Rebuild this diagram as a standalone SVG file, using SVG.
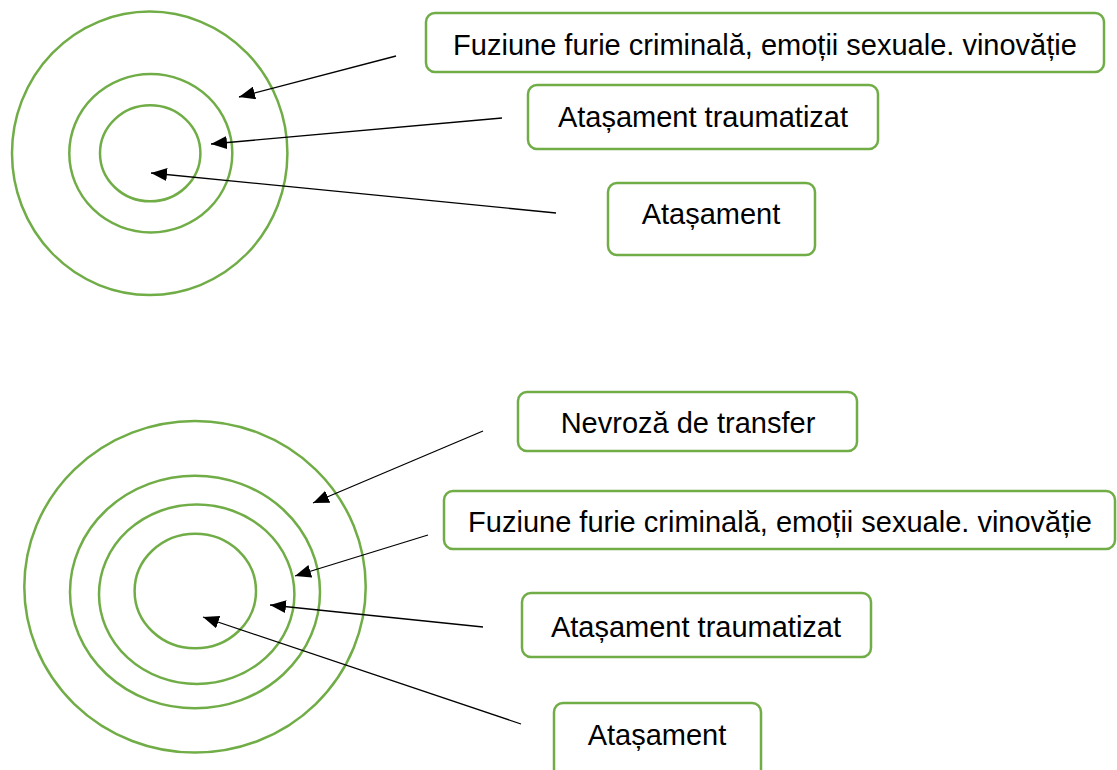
<svg xmlns="http://www.w3.org/2000/svg" width="1117" height="770" viewBox="0 0 1117 770">
<style>
.ring{fill:none;stroke:#70AD47;stroke-width:2.5}
.box{fill:#fff;stroke:#70AD47;stroke-width:2.5}
.lbl{font-family:"Liberation Sans",Arial,sans-serif;font-size:29px;fill:#000;text-anchor:middle}
.conn{fill:none;stroke:#000;stroke-width:1.3;marker-end:url(#ah)}
</style>
<defs>
<marker id="ah" markerUnits="userSpaceOnUse" markerWidth="17" markerHeight="13" refX="16" refY="6.5" orient="auto">
<path d="M0,0 L16,6.5 L0,13 z" fill="#000"/>
</marker>
</defs>
<rect width="1117" height="770" fill="#fff"/>
<g id="rings-top">
<ellipse class="ring" cx="149.7" cy="153.3" rx="137.7" ry="141.7"/>
<ellipse class="ring" cx="150.8" cy="153.2" rx="81.5" ry="79.2"/>
<ellipse class="ring" cx="150.2" cy="153.3" rx="50.2" ry="48"/>
</g>
<g id="rings-bottom">
<ellipse class="ring" cx="195" cy="586.8" rx="170.7" ry="165.8"/>
<ellipse class="ring" cx="195" cy="592" rx="125" ry="116.3"/>
<ellipse class="ring" cx="196.7" cy="594.2" rx="97.7" ry="89.8"/>
<ellipse class="ring" cx="195.3" cy="591" rx="60.7" ry="57.3"/>
</g>
<g id="connectors">
<line class="conn" x1="396" y1="56" x2="239" y2="97"/>
<line class="conn" x1="502" y1="118" x2="211" y2="144"/>
<line class="conn" x1="556" y1="213" x2="151" y2="173"/>
<line class="conn" x1="483" y1="431" x2="313" y2="503"/>
<line class="conn" x1="428" y1="535" x2="295" y2="576"/>
<line class="conn" x1="483" y1="627" x2="270" y2="605"/>
<line class="conn" x1="521" y1="724" x2="203" y2="617"/>
</g>
<g id="t1">
<rect class="box" x="426" y="13" width="678" height="59" rx="9"/>
<text class="lbl" x="765" y="55">Fuziune furie criminală, emoții sexuale. vinovăție</text>
</g>
<g id="t2">
<rect class="box" x="528" y="85" width="350" height="64" rx="9"/>
<text class="lbl" x="703" y="127">Atașament traumatizat</text>
</g>
<g id="t3">
<rect class="box" x="608" y="183" width="207" height="72" rx="9"/>
<text class="lbl" x="711" y="224">Atașament</text>
</g>
<g id="b1">
<rect class="box" x="518" y="392" width="339" height="59" rx="9"/>
<text class="lbl" x="688" y="433">Nevroză de transfer</text>
</g>
<g id="b2">
<rect class="box" x="444" y="491" width="671" height="58" rx="9"/>
<text class="lbl" x="780" y="532">Fuziune furie criminală, emoții sexuale. vinovăție</text>
</g>
<g id="b3">
<rect class="box" x="522" y="593" width="349" height="64" rx="9"/>
<text class="lbl" x="696" y="637">Atașament traumatizat</text>
</g>
<g id="b4">
<rect class="box" x="554" y="703" width="207" height="80" rx="9"/>
<text class="lbl" x="657" y="745">Atașament</text>
</g>
</svg>
